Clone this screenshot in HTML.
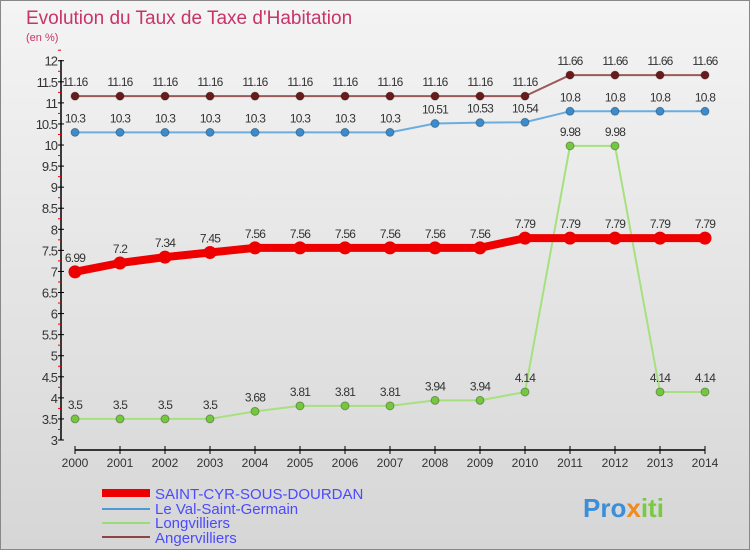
<!DOCTYPE html>
<html><head><meta charset="utf-8"><style>
body{margin:0;background:#fff}
#c{width:750px;height:550px;position:relative;overflow:hidden}
text{font-family:"Liberation Sans",sans-serif}
</style></head><body>
<div id="c">
<svg id="s" width="750" height="550" xmlns="http://www.w3.org/2000/svg">
<defs><linearGradient id="bg" x1="0" y1="0" x2="0" y2="1"><stop offset="0" stop-color="#f4f4f4"/><stop offset="1" stop-color="#d6d6d6"/></linearGradient></defs>
<rect x="0.5" y="0.5" width="749" height="549" fill="url(#bg)" stroke="#888"/>
<text x="26" y="24" font-size="19" fill="#c8336a">Evolution du Taux de Taxe d'Habitation</text>
<text x="26" y="41" font-size="11" fill="#c8336a">(en %)</text>
<g id="axes"></g><g id="series"></g>
<g>
<line x1="102" y1="493" x2="150" y2="493" stroke="#e00" stroke-width="8"/>
<text x="155" y="499" font-size="15" fill="#4a4aff">SAINT-CYR-SOUS-DOURDAN</text>
<line x1="102" y1="509" x2="150" y2="509" stroke="#4d9ad6" stroke-width="2"/>
<text x="155" y="514" font-size="15" fill="#4a4aff">Le Val-Saint-Germain</text>
<line x1="102" y1="523" x2="150" y2="523" stroke="#9bdc78" stroke-width="2"/>
<text x="155" y="528" font-size="15" fill="#4a4aff">Longvilliers</text>
<line x1="102" y1="537" x2="150" y2="537" stroke="#8b4545" stroke-width="2"/>
<text x="155" y="543" font-size="15" fill="#4a4aff">Angervilliers</text>
</g>
<text x="583" y="517" font-size="26" font-weight="bold" fill="#3a8fd8">Pro<tspan fill="#f08a1c">x</tspan><tspan fill="#7ac943">iti</tspan></text>
</svg></div>
<script>
const years=[2000,2001,2002,2003,2004,2005,2006,2007,2008,2009,2010,2011,2012,2013,2014];
const yTicks=[3,3.5,4,4.5,5,5.5,6,6.5,7,7.5,8,8.5,9,9.5,10,10.5,11,11.5,12];
const saintCyr=[6.99,7.2,7.34,7.45,7.56,7.56,7.56,7.56,7.56,7.56,7.79,7.79,7.79,7.79,7.79];
const valSaintGermain=[10.3,10.3,10.3,10.3,10.3,10.3,10.3,10.3,10.51,10.53,10.54,10.8,10.8,10.8,10.8];
const longvilliers=[3.5,3.5,3.5,3.5,3.68,3.81,3.81,3.81,3.94,3.94,4.14,9.98,9.98,4.14,4.14];
const angervilliers=[11.16,11.16,11.16,11.16,11.16,11.16,11.16,11.16,11.16,11.16,11.16,11.66,11.66,11.66,11.66];
const NS="http://www.w3.org/2000/svg";
const X=i=>75+i*45, Y=v=>440-(v-3)*42.14;
function mk(t,a,p){const e=document.createElementNS(NS,t);for(const k in a)e.setAttribute(k,a[k]);(p||document.getElementById('series')).appendChild(e);return e;}
const ax=document.getElementById('axes');
let e=mk('line',{x1:61,y1:60,x2:61,y2:440,stroke:'#000','stroke-width':1.5},ax);

yTicks.forEach(v=>{let t=mk('line',{x1:58,y1:Y(v),x2:64,y2:Y(v),stroke:'#000'},ax);

let m=mk('line',{x1:58,y1:Y(v+0.25),x2:61,y2:Y(v+0.25),stroke:'#e00'},ax);

let l=mk('text',{x:57,y:Y(v)+5,'font-size':13,'text-anchor':'end',fill:'#333','letter-spacing':'-1'},ax);l.textContent=String(v);
});
e=mk('line',{x1:X(0),y1:450,x2:X(14),y2:450,stroke:'#000','stroke-width':1.5},ax);

years.forEach((y,i)=>{let t=mk('line',{x1:X(i),y1:446,x2:X(i),y2:454,stroke:'#000'},ax);

let l=mk('text',{x:X(i),y:467,'font-size':12,'text-anchor':'middle',fill:'#333'},ax);l.textContent=y;
});
function series(vals,name,col,dot,w,r){
const g=mk('g',{});
let p=mk('polyline',{points:vals.map((v,i)=>X(i)+','+Y(v)).join(' '),fill:'none',stroke:col,'stroke-width':w,'stroke-linejoin':'round'},g);

vals.forEach((v,i)=>{let c=mk('circle',{cx:X(i),cy:Y(v),r:r,fill:dot,stroke:w>4?dot:'rgba(0,0,0,0.3)'},g);

let l=mk('text',{x:X(i),y:Y(v)-10,'font-size':12,'text-anchor':'middle',fill:'#333','letter-spacing':'-0.8'},g);l.textContent=String(v);
});}
series(angervilliers,'angervilliers','#9a5a5a','#6b1a1a',2,4);
series(valSaintGermain,'val-saint-germain','#6aaee0','#3a8ccf',2,4);
series(longvilliers,'longvilliers','#a6e07f','#74c83e',2,4);
series(saintCyr,'saint-cyr','#ee0000','#ee0000',8,6);
</script></body></html>
